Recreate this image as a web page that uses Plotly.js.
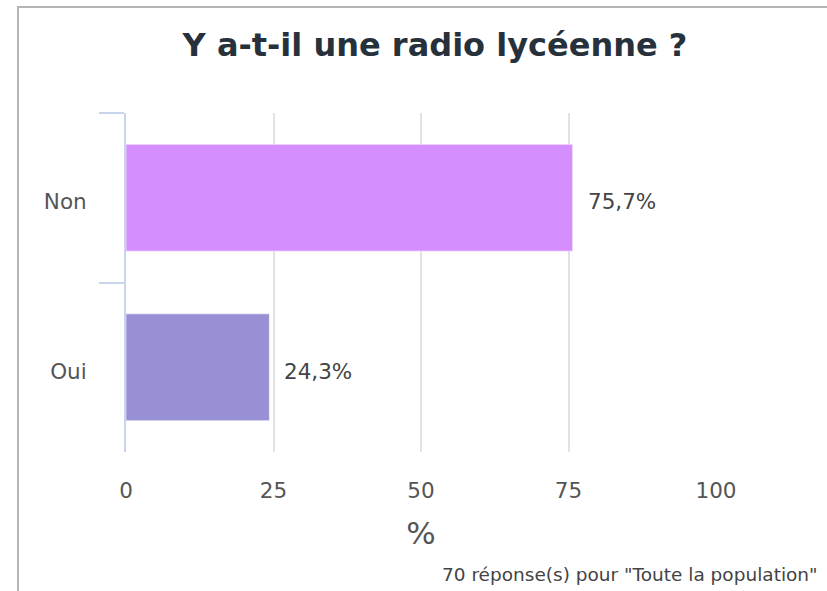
<!DOCTYPE html>
<html>
<head>
<meta charset="utf-8">
<script src="https://cdn.plot.ly/plotly-3.0.1.min.js"></script>
<style>
  html, body { margin: 0; padding: 0; background: #fff; overflow: hidden; }
  #frame { position: absolute; left: 17px; top: 6px; width: 900px; height: 700px;
           border-left: 2px solid #b4b4b4; border-top: 2px solid #b4b4b4; }
  #chart { position: absolute; left: 0; top: 0; width: 827px; height: 591px; }
</style>
</head>
<body>
<div id="frame"></div>
<div id="chart"></div>
<script>
const categories = ["Non", "Oui"];
const percentages = [75.7, 24.3];
const barColors = ["#d58efe", "#9890d4"];
const xTicks = [0, 25, 50, 75, 100];
const chartTitle = "Y a-t-il une radio lycéenne ?";
const axisTitle = "%";
const footnote = '70 réponse(s) pour "Toute la population"';

const trace = {
  type: "bar",
  orientation: "h",
  y: categories,
  x: percentages,
  marker: { color: barColors, line: { color: "rgba(255,255,255,0.5)", width: 1 } },
  hoverinfo: "none"
};

const valueLabels = categories.map((c, i) => ({
  x: percentages[i], y: c, xref: "x", yref: "y",
  text: percentages[i].toFixed(1).replace(".", ",") + "%",
  showarrow: false, xanchor: "left", xshift: 13, yshift: -4,
  font: { family: "DejaVu Sans", size: 21.5, color: "#444" }
}));

const layout = {
  width: 827, height: 591,
  paper_bgcolor: "rgba(0,0,0,0)", plot_bgcolor: "rgba(0,0,0,0)",
  margin: { l: 126, r: 111, t: 113, b: 139, pad: 0 },
  font: { family: "DejaVu Sans", color: "#555" },
  title: {
    text: "<b>" + chartTitle + "</b>",
    font: { family: "DejaVu Sans", size: 32, color: "#27313b" },
    x: 435 / 827, xref: "container", xanchor: "center",
    y: 1 - 45 / 591, yref: "container", yanchor: "middle"
  },
  bargap: 0.37,
  showlegend: false,
  xaxis: {
    range: [0, 100],
    tickvals: xTicks,
    ticktext: xTicks.map(String),
    showgrid: true, gridcolor: "#e2e2e2", gridwidth: 2,
    zeroline: false, showline: false,
    ticks: "", ticklabelstandoff: 23,
    tickfont: { family: "DejaVu Sans", size: 21.5, color: "#555" },
    title: { text: axisTitle, font: { family: "DejaVu Sans", size: 31, color: "#555" }, standoff: 20 },
    fixedrange: true
  },
  yaxis: {
    type: "category",
    categoryorder: "array", categoryarray: categories,
    autorange: "reversed",
    showgrid: false, zeroline: false,
    showline: true, linecolor: "#c9d4ee", linewidth: 2,
    ticks: "outside", tickson: "boundaries", ticklen: 25, tickcolor: "#c9d4ee", tickwidth: 2,
    ticklabelstandoff: 33, ticklabelshift: -4,
    tickfont: { family: "DejaVu Sans", size: 21.5, color: "#555" },
    fixedrange: true
  },
  annotations: valueLabels.concat([{
    text: footnote, xref: "paper", yref: "paper",
    x: (820 - 126) / 590, y: -(574 - 452) / 339,
    xanchor: "right", yanchor: "middle", showarrow: false,
    font: { family: "DejaVu Sans", size: 18.5, color: "#444" }
  }])
};

Plotly.newPlot("chart", [trace], layout, { displayModeBar: false, staticPlot: true });
</script>
</body>
</html>
